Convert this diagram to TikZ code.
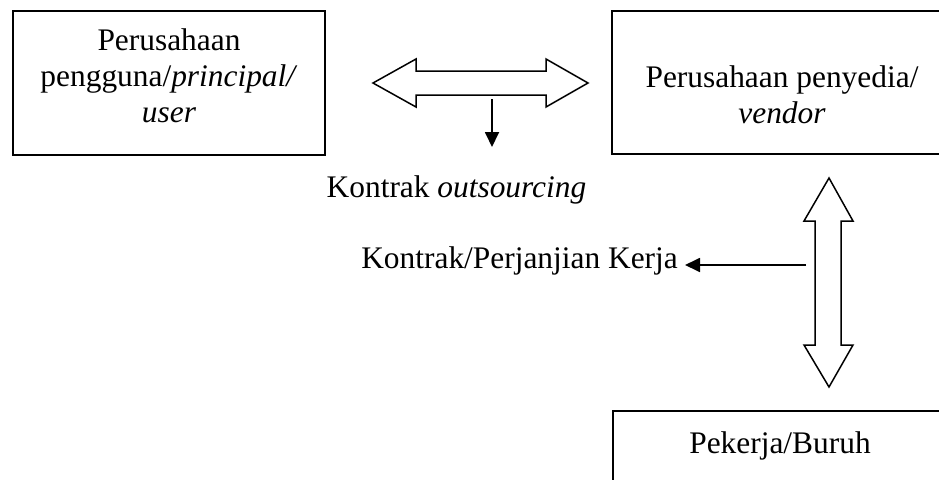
\documentclass[tikz,border=0pt]{standalone}
\usepackage{fontspec}
\setmainfont{Liberation Serif}[ItalicFont={Liberation Serif Italic}, BoldFont={Liberation Serif Bold}]
\usetikzlibrary{arrows.meta}
\tikzset{
  boxnode/.style={draw=black, line width=2pt, rectangle, inner sep=0pt},
  lbl/.style={inner sep=0pt, anchor=base, font=\fontsize{31.4}{36}\selectfont},
  blockarrow/.style={draw=black, line width=1.5pt, fill=white, line join=miter},
  thinarrow/.style={line width=1.8pt, -{Triangle[length=15pt,width=14pt]}}
}
\begin{document}
\begin{tikzpicture}[x=1pt,y=-1pt]
\clip (0,0) rectangle (939,479);
\fill[white] (0,0) rectangle (939,479);
% boxes
\node[boxnode, minimum width=312pt, minimum height=144pt] (user) at (169,83) {};
\node[boxnode, minimum width=343pt, minimum height=143pt] (vendor) at (783.5,82.5) {};
\node[boxnode, minimum width=334pt, minimum height=100pt] (buruh) at (780,461) {};
% texts
\node[lbl] (u1) at (169,50) {Perusahaan};
\node[lbl] (u2) at (169,86) {pengguna/\textit{principal/}};
\node[lbl] (u3) at (169,122) {\textit{user}};
\node[lbl] (v1) at (782,87) {Perusahaan penyedia/};
\node[lbl] (v2) at (782,123) {\textit{vendor}};
\node[lbl] (b1) at (780,453) {Pekerja/Buruh};
\node[lbl] (ko) at (456.5,197) {Kontrak \textit{outsourcing}};
\node[lbl, anchor=base east] (kp) at (678,268) {Kontrak/Perjanjian Kerja};
% horizontal block double arrow
\draw[blockarrow] (373,83) -- (416,59) -- (416,71) -- (546,71) -- (546,59) -- (588,83)
  -- (546,107) -- (546,95) -- (416,95) -- (416,107) -- cycle;
% vertical block double arrow
\draw[blockarrow] (829,178) -- (853,221) -- (841,221) -- (841,345) -- (853,345) -- (829,387)
  -- (804,345) -- (815,345) -- (815,221) -- (804,221) -- cycle;
% thin arrows
\coordinate (dstart) at (492,99);
\coordinate (dend) at (492,147);
\draw[thinarrow] (dstart) -- (dend);
\coordinate (lstart) at (806,265);
\coordinate (lend) at ([xshift=7pt]kp.east |- lstart);
\draw[thinarrow] (lstart) -- (lend);
\end{tikzpicture}
\end{document}
